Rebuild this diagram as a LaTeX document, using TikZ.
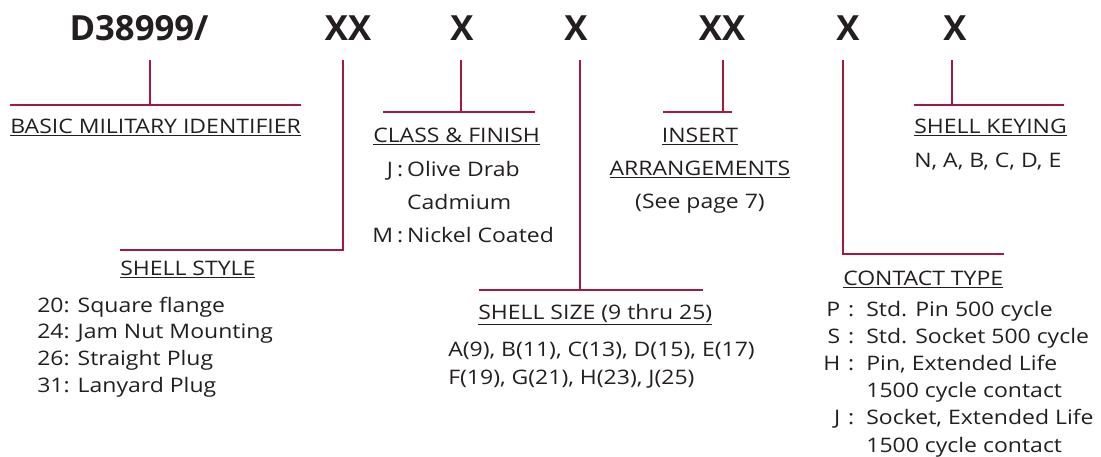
\documentclass[tikz,border=0pt]{standalone}
\usepackage{fontspec}
\setmainfont{Open Sans}[FakeStretch=1.15]
\newfontfamily\codefont{Open Sans}
\usetikzlibrary{positioning}
\definecolor{crimson}{RGB}{165,25,65}
\definecolor{ink}{RGB}{35,31,32}
\tikzset{
  code/.style={font=\codefont\fontsize{26}{30}\selectfont\bfseries, text=ink, inner sep=0pt, text depth=0pt, anchor=base},
  lead/.style={crimson, line width=1.1pt},
  txt/.style={font=\fontsize{15}{20}\selectfont, text=ink, inner sep=0pt, anchor=base west},
}
\setlength{\tabcolsep}{0pt}
\begin{document}
\begin{tikzpicture}[x=0.75pt,y=-0.75pt]
\useasboundingbox (0,0) rectangle (1101,457);
% ----- part number -----
\node[code] (basic) at (139,40) {D38999/};
\node[code] (style) at (348,40) {XX};
\node[code] (cls)   at (462,40) {X};
\node[code] (size)  at (576,40) {X};
\node[code] (ins)   at (722,40) {XX};
\node[code] (cont)  at (848,40) {X};
\node[code] (key)   at (955,40) {X};
% ----- bars -----
\coordinate (basicJ) at (150,105);
\coordinate (basicA) at (10,105);
\coordinate (basicB) at (301,105);
\coordinate (styleJ) at (343,250);
\coordinate (styleA) at (120,250);
\coordinate (clsJ) at (461,112);
\coordinate (clsA) at (383,112);
\coordinate (clsB) at (535,112);
\coordinate (sizeJ) at (580,290);
\coordinate (sizeA) at (479,290);
\coordinate (sizeB) at (703,290);
\coordinate (insJ) at (723,112);
\coordinate (insA) at (663,112);
\coordinate (insB) at (732,112);
\coordinate (contJ) at (843,254);
\coordinate (contB) at (1004,254);
\coordinate (keyJ) at (952,105);
\coordinate (keyA) at (914,105);
\coordinate (keyB) at (1064,105);
% ----- leads -----
\draw[lead] (basicJ |- basic.south) ++(0,20) -- (basicJ);
\draw[lead] (basicA) -- (basicB);
\draw[lead] (styleJ |- style.south) ++(0,20) -- (styleJ) -- (styleA);
\draw[lead] (clsJ |- cls.south) ++(0,20) -- (clsJ);
\draw[lead] (clsA) -- (clsB);
\draw[lead] (sizeJ |- size.south) ++(0,20) -- (sizeJ);
\draw[lead] (sizeA) -- (sizeB);
\draw[lead] (insJ |- ins.south) ++(0,20) -- (insJ);
\draw[lead] (insA) -- (insB);
\draw[lead] (contJ |- cont.south) ++(0,20) -- (contJ) -- (contB);
\draw[lead] (keyJ |- key.south) ++(0,20) -- (keyJ);
\draw[lead] (keyA) -- (keyB);
% ----- labels -----
\node[txt] (basicH) at (10,133) {\underline{BASIC MILITARY IDENTIFIER}};
\node[txt] (styleH) at (120,275) {\underline{SHELL STYLE}};
\node[txt] (styleI) at (37,312) {\begin{tabular}[t]{l}
20: Square flange\\
24: Jam Nut Mounting\\
26: Straight Plug\\
31: Lanyard Plug
\end{tabular}};
\node[txt] (clsH) at (373,142) {\underline{CLASS \& FINISH}};
\node[txt] (clsI) at (372,176) {\renewcommand\arraystretch{1.24}%
\begin{tabular}[t]{r@{\hspace{3pt}}c@{\hspace{3pt}}l}
J & : & Olive Drab\\
  &   & Cadmium\\
M & : & Nickel Coated
\end{tabular}};
\node[txt, anchor=base] (insH) at (700,142) {\renewcommand\arraystretch{1.24}%
\begin{tabular}[t]{c}
\underline{INSERT}\\
\underline{ARRANGEMENTS}\\
(See page 7)
\end{tabular}};
\node[txt] (sizeH) at (478,319) {\underline{SHELL SIZE (9 thru 25)}};
\node[txt] (sizeI) at (448,356) {\renewcommand\arraystretch{1.05}%
\begin{tabular}[t]{l}
A(9), B(11), C(13), D(15), E(17)\\
F(19), G(21), H(23), J(25)
\end{tabular}};
\node[txt] (contH) at (843,285) {\underline{CONTACT TYPE}};
\node[txt] (contI) at (823,316) {\renewcommand\arraystretch{1.02}%
\begin{tabular}[t]{r@{\hspace{6pt}}c@{\hspace{9pt}}l}
P & : & Std. Pin 500 cycle\\
S & : & Std. Socket 500 cycle\\
H & : & Pin, Extended Life\\
  &   & 1500 cycle contact\\
J & : & Socket, Extended Life\\
  &   & 1500 cycle contact
\end{tabular}};
\node[txt] (keyH) at (914,133) {\underline{SHELL KEYING}};
\node[txt] (keyI) at (914,167) {N, A, B, C, D, E};
\end{tikzpicture}
\end{document}
